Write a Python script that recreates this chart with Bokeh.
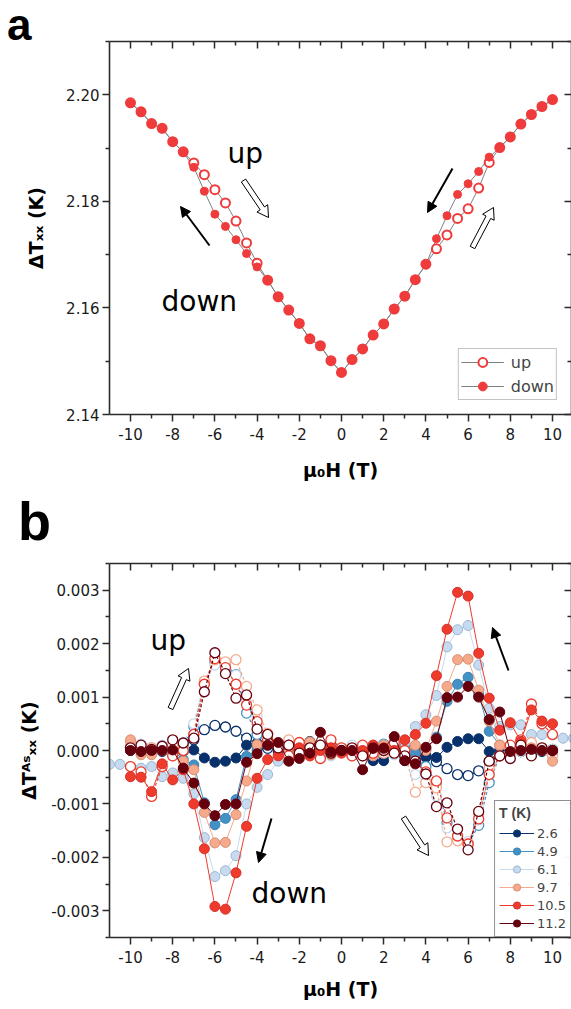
import numpy as np
from bokeh.plotting import figure
from bokeh.layouts import column
from bokeh.models import (LinearAxis, FixedTicker, NumeralTickFormatter, Div,
                          Label, Legend, LegendItem, Arrow, NormalHead, Range1d)
from bokeh.embed import file_html
from bokeh.resources import INLINE

TICK_FONT = "DejaVu Sans"
BIG_FONT = "Liberation Sans"

# ---------------- panel a data ----------------
field_a = [-10, -9.5, -9, -8.5, -8, -7.5, -7, -6.5, -6, -5.5, -5, -4.5, -4, -3.5, -3, -2.5, -2, -1.5, -1, -0.5,
           0, 0.5, 1, 1.5, 2, 2.5, 3, 3.5, 4, 4.5, 5, 5.5, 6, 6.5, 7, 7.5, 8, 8.5, 9, 9.5, 10]
dT_up = [2.1985, 2.1968, 2.1946, 2.1937, 2.1912, 2.1893, 2.1872, 2.1850, 2.1822, 2.1797,
         2.1763, 2.1722, 2.1684, 2.1652, 2.1621, 2.1596, 2.1571, 2.1542, 2.1529, 2.1501,
         2.1479, 2.1503, 2.1523, 2.1549, 2.1570, 2.1598, 2.1622, 2.1653, 2.1682, 2.1711,
         2.1737, 2.1768, 2.1786, 2.1825, 2.1873, 2.1901, 2.1921, 2.1945, 2.1963, 2.1978, 2.1991]
dT_down = [2.1984, 2.1968, 2.1945, 2.1937, 2.1912, 2.1892, 2.1864, 2.1819, 2.1776, 2.1753,
           2.1728, 2.1702, 2.1677, 2.1652, 2.1621, 2.1595, 2.1571, 2.1542, 2.1529, 2.1500,
           2.1479, 2.1503, 2.1523, 2.1549, 2.1570, 2.1598, 2.1622, 2.1653, 2.1681, 2.1730,
           2.1773, 2.1813, 2.1833, 2.1856, 2.1883, 2.1901, 2.1921, 2.1945, 2.1963, 2.1978, 2.1991]

# ---------------- panel b data (values in mK) ----------------
field_b = field_a
field_b_wide = [-11, -10.5] + field_a + [10.5, 11]
temps = ["2.6", "4.9", "6.1", "9.7", "10.5", "11.2"]
colors = ["#08306b", "#4292c6", "#c6dbef", "#f6a98b", "#ef3b2c", "#67000d"]
edges = ["#08306b", "#3a80b5", "#9db6d2", "#d98f74", "#d6302a", "#67000d"]

up_26 = [0.05, 0.04, 0.00, 0.05, 0.02, 0.10, 0.20, 0.39, 0.47, 0.44,
         0.36, 0.23, 0.10, 0.04, 0.00, 0.05, -0.03, 0.08, 0.02, 0.10,
         0.00, -0.08, 0.03, -0.10, 0.05, 0.02, -0.05, -0.02, -0.10, -0.21,
         -0.34, -0.45, -0.47, -0.38, -0.20, 0.00, 0.03, -0.02, 0.02, 0.00, 0.02]
down_26 = [0.00, 0.00, 0.02, -0.02, 0.00, -0.02, 0.01, -0.14, -0.22, -0.20,
           -0.14, 0.10, 0.14, 0.17, 0.10, 0.16, 0.14, 0.17, 0.10, 0.00,
           0.00, -0.05, -0.10, -0.19, -0.19, -0.05, -0.19, -0.17, -0.13, -0.13,
           0.06, 0.17, 0.22, 0.22, -0.02, -0.02, 0.00, -0.02, 0.00, -0.02, 0.00]
up_49 = [0.05, 0.08, 0.05, 0.02, 0.05, 0.10, 0.45, 1.25, 1.65, 1.60,
         1.42, 0.70, 0.30, 0.10, 0.08, -0.05, 0.10, 0.05, -0.08, 0.05,
         0.00, 0.08, -0.05, 0.05, 0.12, -0.05, 0.05, -0.10, -0.30, -0.60,
         -1.35, -1.60, -1.75, -1.40, -0.60, -0.10, -0.05, 0.00, -0.08, 0.03, 0.00]
down_49 = [0.00, 0.00, 0.02, 0.00, 0.00, -0.17, -0.27, -0.98, -1.39, -1.27,
           -0.92, -0.11, 0.01, 0.12, 0.05, 0.10, 0.05, -0.05, 0.08, -0.05,
           0.00, -0.05, 0.05, -0.10, 0.00, 0.02, -0.10, -0.05, 0.03, 0.25,
           0.92, 1.24, 1.37, 1.05, 0.36, 0.10, 0.00, 0.00, 0.02, 0.00, 0.00]
up_61 = [0.10, 0.12, 0.05, 0.10, 0.05, 0.15, 0.50, 1.30, 1.60, 1.57,
         1.41, 0.90, 0.63, 0.30, 0.10, 0.05, -0.05, 0.10, 0.00, -0.10,
         0.05, 0.10, -0.05, 0.00, 0.10, -0.08, 0.00, -0.45, -0.60, -0.85,
         -1.45, -1.65, -1.70, -1.30, -0.45, -0.10, 0.05, -0.02, 0.00, 0.05, 0.02]
down_61 = [-0.26, -0.26, -0.30, -0.33, -0.30, -0.49, -0.42, -0.52, -0.81, -1.63,
           -2.36, -2.25, -1.97, -1.00, -0.69, -0.45, -0.20, -0.10, 0.05, 0.00,
           0.10, 0.05, 0.00, -0.10, -0.05, 0.10, 0.02, 0.10, 0.15, 0.45,
           0.67, 1.03, 1.94, 2.26, 2.34, 1.60, 0.79, 0.45, 0.48, 0.48,
           0.30, 0.30, 0.29, 0.23, 0.23]
up_97 = [0.15, 0.10, 0.05, 0.02, 0.10, 0.05, 0.30, 1.30, 1.70, 1.66,
         1.70, 1.20, 0.76, 0.32, 0.10, 0.20, 0.05, -0.10, 0.10, 0.05,
         0.00, -0.10, 0.05, 0.10, -0.05, 0.00, -0.05, -0.78, -0.60, -0.70,
         -1.71, -1.69, -1.75, -1.20, -0.33, 0.10, -0.05, 0.10, 0.15, 0.05, -0.10]
down_97 = [0.20, -0.08, -0.08, 0.00, -0.10, -0.20, -0.36, -1.16, -1.73, -1.72,
           -1.20, -0.57, 0.11, 0.15, 0.10, 0.05, 0.15, 0.16, 0.00, -0.08,
           0.00, -0.05, 0.00, -0.10, 0.10, 0.05, -0.10, 0.10, 0.00, 0.55,
           1.20, 1.70, 1.71, 1.13, 0.55, 0.10, 0.05, 0.00, 0.05, 0.00, -0.20]
up_105 = [-0.30, -0.40, -0.86, -0.30, -0.10, 0.00, 0.30, 1.24, 1.72, 1.55,
          1.24, 0.85, 0.54, 0.20, 0.05, -0.10, 0.15, 0.02, -0.15, 0.20,
          0.05, -0.10, 0.10, -0.05, 0.00, 0.15, 0.00, -0.20, -0.40, -0.57,
          -1.26, -1.60, -1.75, -1.28, -0.45, -0.10, 0.10, 0.20, 0.87, 0.50, 0.30]
down_105 = [-0.49, -0.50, -0.77, -0.25, -0.55, -0.36, -1.00, -1.84, -2.92, -2.97,
            -2.29, -1.42, -0.52, -0.17, -0.10, 0.10, 0.05, -0.10, 0.00, 0.05,
            -0.05, 0.00, 0.00, 0.10, 0.05, 0.00, 0.20, 0.30, 0.51, 1.40,
            2.27, 2.96, 2.89, 1.82, 0.98, 0.38, 0.52, 0.17, 0.76, 0.55, 0.50]
up_112 = [0.05, 0.10, 0.02, 0.08, 0.20, 0.14, 0.23, 1.10, 1.83, 1.44,
          0.98, 1.04, 0.40, 0.30, 0.05, 0.10, -0.05, 0.05, 0.10, -0.05,
          0.00, 0.05, -0.10, 0.05, 0.00, -0.05, -0.10, -0.20, -0.44, -1.05,
          -0.98, -1.47, -1.86, -1.14, -0.20, -0.10, -0.15, 0.10, -0.10, 0.05, 0.00]
down_112 = [0.00, -0.02, 0.00, 0.00, 0.01, -0.33, -0.61, -1.00, -1.22, -1.01,
            -1.00, -0.22, -0.06, 0.10, 0.15, -0.20, -0.15, -0.05, 0.34, -0.03,
            0.00, 0.00, -0.36, 0.04, 0.04, 0.26, -0.19, -0.25, 0.06, 0.22,
            0.99, 1.00, 1.20, 1.00, 0.58, 0.72, -0.02, 0.00, 0.02, 0.00, 0.00]

ups = [up_26, up_49, up_61, up_97, up_105, up_112]
downs = [down_26, down_49, down_61, down_97, down_105, down_112]
down_fields = [field_b, field_b, field_b_wide, field_b, field_b, field_b]

# ticks
x_ticks = [-10, -8, -6, -4, -2, 0, 2, 4, 6, 8, 10]
x_minor = [-11, -9, -7, -5, -3, -1, 1, 3, 5, 7, 9, 11]
ya_ticks = [2.14, 2.16, 2.18, 2.20]
ya_minor = [2.15, 2.17, 2.19, 2.21]
yb_ticks = [-0.003, -0.002, -0.001, 0.0, 0.001, 0.002, 0.003]
yb_minor = [-0.0035, -0.0025, -0.0015, -0.0005, 0.0005, 0.0015, 0.0025, 0.0035]

# ---------------- geometry (page pixels) ----------------
W = 571
XR = (-10.995, 10.9)
LEFT = 109
HEAD_A = 40
HA, A_BOT = 457, 83          # panel a figure: page 40..497, frame 41..414
HEAD_B = 65
HB, B_BOT = 447, 72          # panel b figure: page 562..1009, frame 563..937
YA = (2.14, 2.21)
YB = (-0.0035, 0.0035)
geom_a = (LEFT, W, 41, 414, XR, YA)
geom_b = (LEFT, W, 563, 937, XR, YB)

AX = "#2b2b2b"


def to_data(geom, px, py):
    L, R, T, B, xr, yr = geom
    x = xr[0] + (px - L) / (R - L) * (xr[1] - xr[0])
    y = yr[1] - (py - T) / (B - T) * (yr[1] - yr[0])
    return x, y


def style_axis(ax, outer):
    ax.axis_line_color = AX
    ax.axis_line_width = 1.6
    ax.major_tick_line_color = AX
    ax.minor_tick_line_color = AX
    ax.major_tick_line_width = 1.5
    ax.minor_tick_line_width = 1.5
    if outer:
        ax.major_tick_out, ax.major_tick_in = 7, 0
        ax.minor_tick_out, ax.minor_tick_in = 4, 0
        ax.major_label_text_font = TICK_FONT
        ax.major_label_text_font_size = "15px"
        ax.major_label_text_color = "#1a1a1a"
        ax.axis_label_text_font = TICK_FONT
        ax.axis_label_text_font_style = "bold"
        ax.axis_label_text_font_size = "19px"
        ax.axis_label_text_color = "black"
    else:
        ax.major_tick_out, ax.major_tick_in = 0, 7
        ax.minor_tick_out, ax.minor_tick_in = 0, 4
        ax.major_label_text_font_size = "1px"
        ax.major_label_text_alpha = 0
        ax.major_label_text_color = None
        ax.major_label_standoff = 0


def make_fig(height, bottom, yr, yt, ym, yfmt, ylabel, ylabel_standoff, xlabel_standoff):
    p = figure(width=W, height=height, x_range=Range1d(*XR), y_range=Range1d(*yr),
               output_backend="svg", toolbar_location=None, x_axis_type=None, y_axis_type=None,
               min_border_left=LEFT, min_border_right=0, min_border_top=1, min_border_bottom=bottom)
    p.outline_line_color = None
    p.background_fill_color = "white"
    p.border_fill_color = "white"
    for loc in ("below", "above"):
        ax = LinearAxis(ticker=FixedTicker(ticks=x_ticks, minor_ticks=x_minor),
                        formatter=NumeralTickFormatter(format="0"))
        style_axis(ax, loc == "below")
        if loc == "below":
            ax.major_label_standoff = 6
            ax.axis_label = "μ₀H (T)"
            ax.axis_label_standoff = xlabel_standoff
        p.add_layout(ax, loc)
    for loc in ("left", "right"):
        ax = LinearAxis(ticker=FixedTicker(ticks=yt, minor_ticks=ym), formatter=NumeralTickFormatter(format=yfmt))
        style_axis(ax, loc == "left")
        if loc == "left":
            ax.major_label_standoff = 3
            ax.axis_label = ylabel
            ax.axis_label_standoff = ylabel_standoff
        p.add_layout(ax, loc)
    return p


def header(height, letter, pad_left, size, line_height):
    html = (f'<div style="margin:0;padding:0 0 0 {pad_left}px;font-family:\'{BIG_FONT}\';'
            f'font-size:{size}px;font-weight:bold;line-height:{line_height}px;color:#000;">{letter}</div>')
    return Div(text=html, width=W, height=height, margin=0)


def txt(p, geom, px, py, text, size, font=TICK_FONT, style="normal"):
    x, y = to_data(geom, px, py)
    p.add_layout(Label(x=x, y=y, text=text, text_font=font, text_font_size=f"{size}px",
                       text_font_style=style, text_align="left", text_baseline="alphabetic",
                       text_color="black"))


def hollow_arrow(p, geom, tail, head, shaft=2.6, head_w=6.5, head_len=11):
    tx, ty = tail
    hx, hy = head
    dx, dy = hx - tx, hy - ty
    n = (dx * dx + dy * dy) ** 0.5
    ux, uy = dx / n, dy / n
    nx, ny = -uy, ux
    kx, ky = hx - ux * head_len, hy - uy * head_len
    pts = [(tx + nx * shaft, ty + ny * shaft), (kx + nx * shaft, ky + ny * shaft),
           (kx + nx * head_w, ky + ny * head_w), (hx, hy),
           (kx - nx * head_w, ky - ny * head_w), (kx - nx * shaft, ky - ny * shaft),
           (tx - nx * shaft, ty - ny * shaft)]
    d = [to_data(geom, a, b) for a, b in pts]
    p.patch([q[0] for q in d], [q[1] for q in d], fill_color="white", line_color="black", line_width=1)


def solid_arrow(p, geom, tail, head):
    x0, y0 = to_data(geom, *tail)
    x1, y1 = to_data(geom, *head)
    p.add_layout(Arrow(end=NormalHead(size=10, fill_color="black", line_color="black", line_width=1),
                       x_start=x0, y_start=y0, x_end=x1, y_end=y1, line_width=2, line_color="black"))


# ---------------- panel a ----------------
RED = "#ef3b3b"
ha = header(HEAD_A, "a", 7, 44, 49.5)
pa = make_fig(HA, A_BOT, YA, ya_ticks, ya_minor, "0.00", "ΔTₓₓ (K)", 16, 16)
la_up = pa.line(field_a, dT_up, line_color="#808080", line_width=1)
la_dn = pa.line(field_a, dT_down, line_color="#808080", line_width=1)
sa_up = pa.scatter(field_a, dT_up, marker="circle", size=9, fill_color="white", line_color=RED, line_width=2)
sa_dn = pa.scatter(field_a, dT_down, marker="circle", size=8, fill_color=RED, line_color=RED, line_width=1)

leg_a = Legend(items=[LegendItem(label="up", renderers=[la_up, sa_up]),
                      LegendItem(label="down", renderers=[la_dn, sa_dn])],
               location="bottom_right", margin=14, padding=2, spacing=2,
               glyph_width=43, glyph_height=22, label_height=22, label_standoff=7,
               label_text_font=TICK_FONT, label_text_font_size="16px",
               border_line_color="#888888", border_line_width=1, background_fill_color="white")
pa.add_layout(leg_a)

txt(pa, geom_a, 227, 153, "up", 28)
txt(pa, geom_a, 161, 301, "down", 28)
hollow_arrow(pa, geom_a, (243, 180), (268, 217))
hollow_arrow(pa, geom_a, (472, 247), (493, 207))
solid_arrow(pa, geom_a, (209, 245), (180, 206))
solid_arrow(pa, geom_a, (452, 168), (427, 212))

# ---------------- panel b ----------------
hb = header(HEAD_B, "b", 18, 54, 48.5)
pb = make_fig(HB, B_BOT, YB, yb_ticks, yb_minor, "0.000", "ΔTᴬˢₓₓ (K)", 8, 12)
items = []
for t, c, e, yu, yd, fd in zip(temps, colors, edges, ups, downs, down_fields):
    yu_k = np.array(yu) * 1e-3
    yd_k = np.array(yd) * 1e-3
    pb.line(field_b, yu_k, line_color=c, line_width=1.2, line_dash="3 2")
    pb.scatter(field_b, yu_k, marker="circle", size=10, fill_color="white", line_color=c, line_width=1.3)
    lr = pb.line(fd, yd_k, line_color=c, line_width=1)
    sr = pb.scatter(fd, yd_k, marker="circle", size=10, fill_color=c, line_color=e, line_width=1)
    items.append(LegendItem(label=t, renderers=[lr, sr]))

leg_b = Legend(items=items, location="bottom_right", margin=0, padding=4, spacing=0,
               glyph_width=35, glyph_height=18, label_height=18, label_standoff=3,
               label_text_font=TICK_FONT, label_text_font_size="13px",
               title="T (K)", title_text_font=BIG_FONT, title_text_font_size="14px",
               title_text_font_style="bold", title_standoff=3,
               border_line_color="#222222", border_line_width=1, background_fill_color="white")
pb.add_layout(leg_b)

txt(pb, geom_b, 150, 640, "up", 28)
txt(pb, geom_b, 251, 893, "down", 28)
hollow_arrow(pb, geom_b, (170, 708), (188, 668))
hollow_arrow(pb, geom_b, (403, 817), (428, 855))
solid_arrow(pb, geom_b, (271, 818), (258, 862))
solid_arrow(pb, geom_b, (508, 670), (492, 627))

layout = column(ha, pa, hb, pb, spacing=0)
open("out.html", "w").write(file_html(layout, INLINE))
